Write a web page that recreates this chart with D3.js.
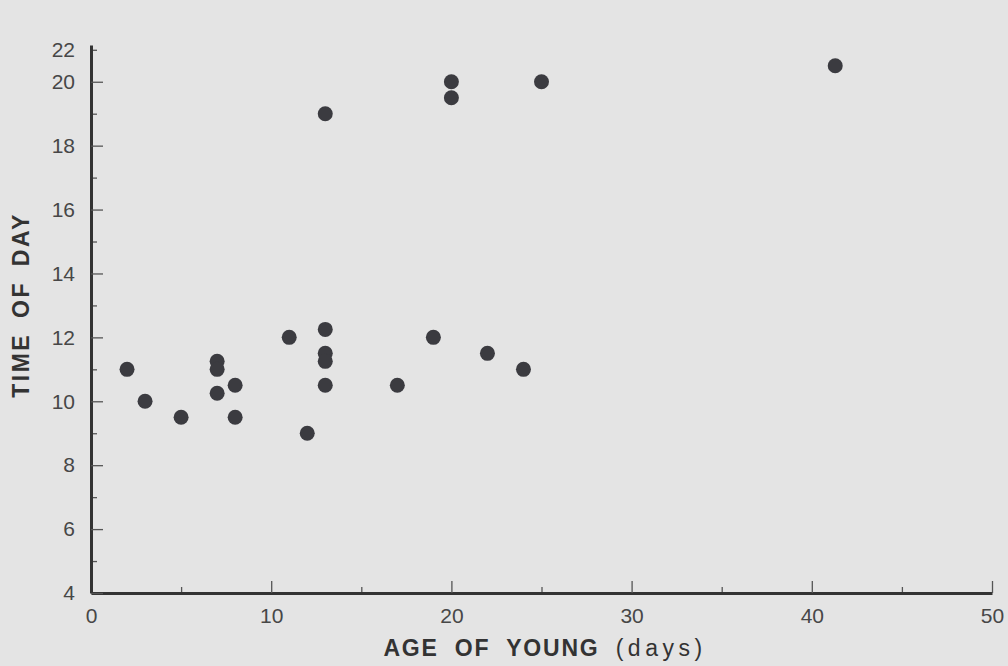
<!DOCTYPE html>
<html>
<head>
<meta charset="utf-8">
<script src="https://cdn.jsdelivr.net/npm/d3@7"></script>
<style>
  body { margin: 0; background: #e4e4e4; }
  svg { display: block; font-family: "Liberation Sans", Arial, sans-serif; }
</style>
</head>
<body>
<div id="chart-container"></div>
<script>
// data
const ageDays = [2, 3, 5, 7, 7, 7, 8, 8, 11, 12, 13, 13, 13, 13, 13, 17, 19, 20, 20, 22, 24, 25, 41.3];
const timeOfDay = [11, 10, 9.5, 11.25, 11, 10.25, 10.5, 9.5, 12, 9, 19, 12.25, 11.5, 11.25, 10.5, 10.5, 12, 20, 19.5, 11.5, 11, 20, 20.5];

const xTicks = [0, 10, 20, 30, 40, 50];
const xMinorTicks = [5, 15, 25, 35, 45];
const yTicks = [4, 6, 8, 10, 12, 14, 16, 18, 20];
const yMinorTicks = [5, 7, 9, 11, 13, 15, 17, 19, 21];
const yTopLabel = "22";

const margin = { top: 45, right: 16, bottom: 73, left: 91 };
const width = 1008 - margin.left - margin.right;
const height = 666 - margin.top - margin.bottom;

const x = d3.scaleLinear()
  .domain([0, 50])
  .range([0, width]);

const y = d3.scaleLinear()
  .domain([4, 21.15])
  .range([height, 0]);

const svg = d3.select("#chart-container")
  .append("svg")
    .attr("width", 1008)
    .attr("height", 666)
  .append("g")
    .attr("transform", `translate(${margin.left},${margin.top})`);

// minor ticks first, so the main axis line sits on top
svg.append("g")
  .attr("class", "minor")
  .attr("transform", `translate(0,${height})`)
  .call(d3.axisBottom(x).tickValues(xMinorTicks).tickSize(-6).tickSizeOuter(0).tickFormat(""));

svg.append("g")
  .attr("class", "minor")
  .call(d3.axisLeft(y).tickValues(yMinorTicks).tickSize(-6).tickSizeOuter(0).tickFormat(""));

// x axis
svg.append("g")
  .attr("transform", `translate(0,${height})`)
  .call(d3.axisBottom(x)
    .tickValues(xTicks)
    .tickSize(-12)
    .tickSizeOuter(0)
    .tickPadding(15));

// y axis
const yAxis = svg.append("g")
  .call(d3.axisLeft(y)
    .tickValues(yTicks)
    .tickSize(-12)
    .tickSizeOuter(0)
    .tickPadding(16));

// the top label sits at the end of the axis in the original
yAxis.append("text")
  .attr("x", -16)
  .attr("y", y(21))
  .attr("dy", "0.32em")
  .attr("text-anchor", "end")
  .text(yTopLabel);

svg.selectAll(".domain")
  .attr("stroke", "#333")
  .attr("stroke-width", 3);

svg.selectAll(".minor .domain").remove();

svg.selectAll(".tick line")
  .attr("stroke", "#555")
  .attr("stroke-width", 1.3);

svg.selectAll("g text")
  .attr("fill", "#474747")
  .attr("font-size", 21);

// axis titles
const xTitle = svg.append("text")
  .attr("x", 454)
  .attr("y", height + 63)
  .attr("text-anchor", "middle")
  .attr("fill", "#333")
  .attr("font-size", 23);

xTitle.append("tspan")
  .attr("font-weight", "bold")
  .attr("letter-spacing", 1.8)
  .attr("word-spacing", 8)
  .text("AGE OF YOUNG ");

xTitle.append("tspan")
  .attr("letter-spacing", 4.5)
  .text("(days)");

svg.append("text")
  .attr("transform", `translate(${-62},${height / 2 - 14}) rotate(-90)`)
  .attr("text-anchor", "middle")
  .attr("fill", "#333")
  .attr("font-size", 23)
  .attr("font-weight", "bold")
  .attr("letter-spacing", 2.5)
  .attr("word-spacing", 6)
  .text("TIME OF DAY");

// points
const points = ageDays.map((d, i) => ({ age: d, time: timeOfDay[i] }));

svg.selectAll("circle.dot")
  .data(points)
  .join("circle")
    .attr("class", "dot")
    .attr("cx", d => x(d.age))
    .attr("cy", d => y(d.time))
    .attr("r", 7.5)
    .attr("fill", "#3b3b40");
</script>
</body>
</html>
